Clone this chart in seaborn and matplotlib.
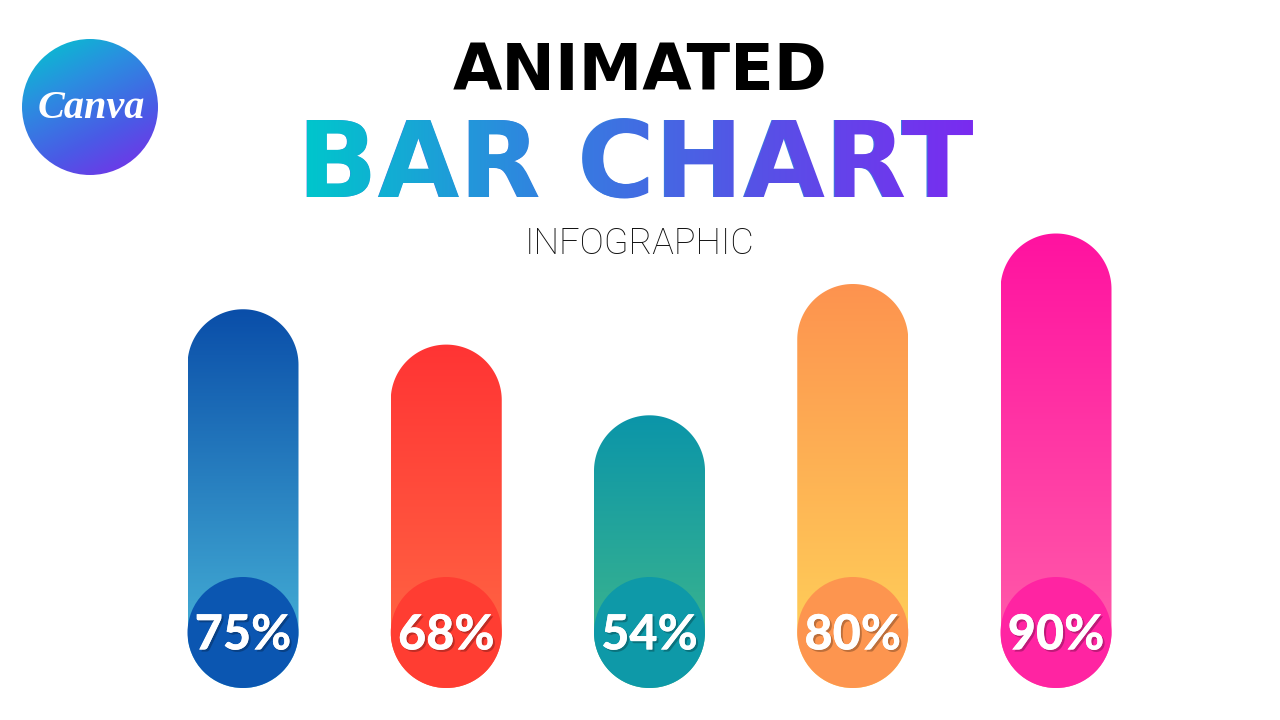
import numpy as np
import pandas as pd
import matplotlib
matplotlib.use("Agg")
import matplotlib.pyplot as plt
import seaborn as sns
import matplotlib.patheffects as pe
from matplotlib.colors import LinearSegmentedColormap
from matplotlib.path import Path
from matplotlib.patches import PathPatch, Ellipse, Circle
from matplotlib.textpath import TextPath
from matplotlib.font_manager import FontProperties

# --- data ---
labels = ["A", "B", "C", "D", "E"]
values = [75, 68, 54, 80, 90]
top_colors = ["#0a4ea9", "#ff3434", "#0b95a9", "#fd934f", "#ff12a0"]
bottom_colors = ["#4cbbdb", "#ff6b45", "#44ba88", "#ffd65a", "#ff63aa"]
badge_colors = ["#0b56b1", "#ff3d32", "#0e99a8", "#fd954f", "#ff24a2"]

title_top = "ANIMATED"
title_mid = "BAR CHART"
title_sub = "INFOGRAPHIC"
logo_text = "Canva"

sns.set_theme(style="white")
plt.rcParams["font.family"] = ["DejaVu Sans"]

DPI = 100
fig = plt.figure(figsize=(12.8, 7.2), dpi=DPI, facecolor="white")

# --- header layer, in pixel units (y up) ---
bg = fig.add_axes([0, 0, 1, 1])
bg.set_xlim(0, 1280)
bg.set_ylim(0, 720)
bg.axis("off")

# canva logo
logo_cmap = LinearSegmentedColormap.from_list("logo", ["#00c8cc", "#2a8fe0", "#4a5ae6", "#7d2ae8"])
gx, gy = np.meshgrid(np.linspace(0, 1, 200), np.linspace(0, 1, 200))
logo_grad = (0.45 * gx + 0.85 * gy) / 1.3
circ = Circle((90, 613), 68, transform=bg.transData)
im = bg.imshow(logo_grad, cmap=logo_cmap, extent=(22, 158, 545, 681), origin="upper",
               aspect="auto", interpolation="bilinear")
im.set_clip_path(circ)
bg.text(91, 611, logo_text, ha="center", va="center", color="white", fontsize=29,
        family="Liberation Serif", style="italic", weight="bold")

# titles
bg.text(640, 630, title_top, ha="center", va="baseline", fontsize=46,
        weight="heavy", color="black")

fp = FontProperties(family="DejaVu Sans", weight="bold", size=76)
tp = TextPath((0, 0), title_mid, size=76 * DPI / 72, prop=fp)
ext = tp.get_extents()
x0 = 640 - (ext.x0 + ext.width / 2)
y0 = 523
bg.text(x0, y0, title_mid, ha="left", va="baseline", fontproperties=fp, color="#3a7ee0")
tp_moved = Path(tp.vertices + [x0, y0], tp.codes)
title_cmap = LinearSegmentedColormap.from_list("title", ["#00c6cc", "#2f86df", "#5553e6", "#7a2bf0"])
tim = bg.imshow(np.linspace(0, 1, 256).reshape(1, -1), cmap=title_cmap,
                extent=(x0 + ext.x0 - 2, x0 + ext.x1 + 2, y0 + ext.y0 - 2, y0 + ext.y1 + 2),
                aspect="auto", interpolation="bilinear", zorder=3)
tim.set_clip_path(PathPatch(tp_moved, transform=bg.transData))

bg.text(640, 466, title_sub, ha="center", va="baseline", fontsize=26,
        family="Roboto", weight="light", color="#111111")

bg.set_xlim(0, 1280)
bg.set_ylim(0, 720)

# --- bars ---
unit_px = 203.25  # px per category
y_px = 5.05       # px per percent
ax = fig.add_axes([(243 - 0.5 * unit_px) / 1280, 32 / 720, 5 * unit_px / 1280, 100 * y_px / 720])
ax.patch.set_alpha(0)
df = pd.DataFrame({"label": labels, "value": values})
sns.barplot(data=df, x="label", y="value", width=111 / unit_px, color="#cccccc", ax=ax)
ax.set_xlim(-0.5, 4.5)
ax.set_ylim(0, 100)
ax.axis("off")

shadow = [pe.withSimplePatchShadow(offset=(1.5, -1.5), shadow_rgbFace="black", alpha=0.25), pe.Normal()]

for i, bar in enumerate(ax.patches[:len(values)]):
    bar.set_visible(False)
    bx, bw, bh = bar.get_x(), bar.get_width(), bar.get_height()
    cx = bx + bw / 2
    r_px = bw * unit_px / 2
    rx, ry = bw / 2, r_px / y_px

    t_top = np.linspace(np.pi, 0, 80)
    t_bot = np.linspace(0, -np.pi, 80)
    pts = np.vstack([
        np.column_stack([cx + rx * np.cos(t_top), bh - ry + ry * np.sin(t_top)]),
        np.column_stack([cx + rx * np.cos(t_bot), ry + ry * np.sin(t_bot)]),
    ])
    pill = Path(np.vstack([pts, pts[:1]]), closed=True)

    cmap = LinearSegmentedColormap.from_list(f"bar{i}", [top_colors[i], bottom_colors[i]])
    gim = ax.imshow(np.linspace(0, 1, 256).reshape(-1, 1), cmap=cmap,
                    extent=(bx, bx + bw, 0, bh), origin="upper", aspect="auto",
                    interpolation="bilinear", zorder=2)
    gim.set_clip_path(PathPatch(pill, transform=ax.transData))

    ax.add_patch(Ellipse((cx, ry), 2 * rx, 2 * ry, facecolor=badge_colors[i],
                         edgecolor="none", zorder=3))
    ax.text(cx, ry - 17 / y_px, f"{values[i]}%", ha="center", va="baseline",
            fontsize=35, family="Lato", weight="black", color="white",
            zorder=4, path_effects=shadow)

ax.set_xlim(-0.5, 4.5)
ax.set_ylim(0, 100)

fig.savefig("out.png", dpi=DPI, facecolor="white")
